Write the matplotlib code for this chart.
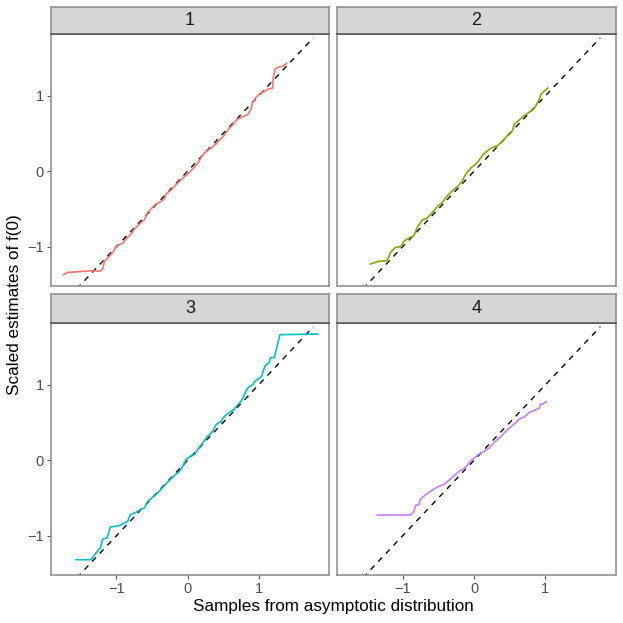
import matplotlib
matplotlib.use("Agg")
import matplotlib.pyplot as plt
import numpy as np

plt.rcParams['font.family'] = ['Liberation Sans', 'DejaVu Sans']

panels = ["1", "2", "3", "4"]
colors = ["#F8766D", "#7CAE00", "#00BFC4", "#C77CFF"]

x1 = [-1.742, -1.686, -1.31, -1.24, -1.193, -1.17, -1.123, -1.053, -1.006, -0.959, -0.912, -0.865,
      -0.795, -0.748, -0.678, -0.607, -0.56, -0.514, -0.443, -0.373, -0.326, -0.303, -0.232, -0.139,
      -0.092, -0.045, 0.002, 0.049, 0.119, 0.166, 0.213, 0.26, 0.33, 0.40, 0.447, 0.494, 0.541, 0.611,
      0.682, 0.705, 0.776, 0.846, 0.893, 0.916, 0.963, 1.01, 1.08, 1.137, 1.197, 1.207, 1.23, 1.291,
      1.338, 1.394]
y1 = [-1.370, -1.339, -1.317, -1.326, -1.295, -1.193, -1.149, -1.074, -1.008, -0.972, -0.954, -0.897,
      -0.831, -0.765, -0.698, -0.645, -0.544, -0.499, -0.433, -0.398, -0.367, -0.301, -0.248, -0.155,
      -0.115, -0.071, -0.036, 0.009, 0.075, 0.141, 0.221, 0.26, 0.309, 0.362, 0.415, 0.450, 0.517, 0.592,
      0.671, 0.693, 0.724, 0.751, 0.826, 0.914, 0.981, 1.025, 1.06, 1.091, 1.100, 1.246, 1.356, 1.387,
      1.391, 1.431]

x2 = [-1.451, -1.334, -1.217, -1.17, -1.1, -1.029, -0.982, -0.912, -0.842, -0.795, -0.725, -0.654,
      -0.584, -0.514, -0.443, -0.373, -0.303, -0.232, -0.162, -0.115, -0.045, 0.026, 0.072, 0.143,
      0.237, 0.33, 0.40, 0.447, 0.494, 0.541, 0.565, 0.635, 0.682, 0.752, 0.822, 0.869, 0.916, 0.94, 1.033]
y2 = [-1.228, -1.193, -1.184, -1.074, -1.008, -0.999, -0.928, -0.884, -0.853, -0.742, -0.645, -0.619,
      -0.544, -0.469, -0.411, -0.323, -0.257, -0.203, -0.124, -0.036, 0.044, 0.097, 0.150, 0.238,
      0.305, 0.340, 0.406, 0.450, 0.503, 0.539, 0.627, 0.680, 0.724, 0.769, 0.813, 0.870, 0.958, 1.025, 1.104]

x3 = [-1.568, -1.357, -1.287, -1.226, -1.193, -1.132, -1.086, -0.959, -0.889, -0.842, -0.804, -0.725,
      -0.664, -0.607, -0.56, -0.467, -0.396, -0.326, -0.256, -0.185, -0.115, -0.068, -0.021, 0.049,
      0.096, 0.143, 0.213, 0.283, 0.354, 0.40, 0.471, 0.518, 0.588, 0.649, 0.705, 0.752, 0.79, 0.822,
      0.855, 0.916, 0.949, 1.01, 1.043, 1.071, 1.094, 1.151, 1.165, 1.221, 1.3, 1.83]
y3 = [-1.317, -1.317, -1.228, -1.162, -1.043, -1.030, -0.884, -0.866, -0.831, -0.809, -0.720, -0.689,
      -0.654, -0.632, -0.544, -0.469, -0.411, -0.336, -0.265, -0.203, -0.146, -0.080, 0.009, 0.062,
      0.075, 0.141, 0.230, 0.318, 0.384, 0.473, 0.517, 0.583, 0.636, 0.671, 0.737, 0.782, 0.848, 0.914,
      0.967, 1.003, 1.047, 1.091, 1.113, 1.201, 1.255, 1.299, 1.356, 1.365, 1.665, 1.674]

x4 = [-1.357, -0.889, -0.842, -0.818, -0.771, -0.757, -0.678, -0.607, -0.514, -0.429, -0.35, -0.279,
      -0.209, -0.139, -0.068, 0.002, 0.072, 0.143, 0.213, 0.283, 0.354, 0.424, 0.494, 0.565, 0.635,
      0.705, 0.776, 0.846, 0.916, 0.93, 0.963, 1.01]
y4 = [-0.725, -0.725, -0.676, -0.597, -0.588, -0.522, -0.455, -0.411, -0.354, -0.323, -0.265, -0.203,
      -0.146, -0.111, -0.036, 0.031, 0.084, 0.119, 0.163, 0.238, 0.296, 0.362, 0.428, 0.481, 0.548,
      0.574, 0.636, 0.662, 0.693, 0.746, 0.746, 0.777]

xs = [x1, x2, x3, x4]
ys = [y1, y2, y3, y4]

ref_line = [-1.77, 1.77]
xticks = [-1, 0, 1]
yticks = [-1, 0, 1]
xlim = (-1.92, 1.99)
ylim = (-1.52, 1.82)

W = H = 623
fig = plt.figure(figsize=(W / 100, H / 100), dpi=100)

# pixel boxes: (left, right, strip_top, plot_top, plot_bottom)
boxes = [(51, 329, 7, 34, 286), (337, 616, 7, 34, 286),
         (51, 329, 294, 323, 575), (337, 616, 294, 323, 575)]

border = "#8A8A8A"
for i, (l, r, st, pt, pb) in enumerate(boxes):
    ax = fig.add_axes([l / W, 1 - pb / H, (r - l) / W, (pb - pt) / H])
    ax.plot(ref_line, ref_line, color="black", linestyle=(0, (4, 4)), linewidth=1.0, zorder=2)
    ax.plot(xs[i], ys[i], color=colors[i], linewidth=1.2, zorder=3)
    ax.set_xlim(*xlim)
    ax.set_ylim(*ylim)
    ax.set_xticks(xticks)
    ax.set_yticks(yticks)
    ax.set_xticklabels(["\u22121", "0", "1"])
    ax.set_yticklabels(["\u22121", "0", "1"])
    for s in ax.spines.values():
        s.set_color(border)
        s.set_linewidth(1.1)
    ax.spines["top"].set_color("#555555")
    ax.tick_params(axis="both", length=3, width=0.8, color="#555555", labelcolor="#4D4D4D",
                   labelsize=10.5, pad=2)
    if i in (0, 1):
        ax.tick_params(axis="x", bottom=False, labelbottom=False)
    if i in (1, 3):
        ax.tick_params(axis="y", left=False, labelleft=False)
    # strip
    sax = fig.add_axes([l / W, 1 - pt / H, (r - l) / W, (pt - st) / H])
    sax.set_facecolor("#D6D6D6")
    sax.set_xticks([])
    sax.set_yticks([])
    for s in sax.spines.values():
        s.set_color(border)
        s.set_linewidth(1.1)
    sax.spines["bottom"].set_color("#555555")
    sax.text(0.5, 0.5, panels[i], ha="center", va="center", fontsize=13, color="#1A1A1A",
             transform=sax.transAxes)

fig.text((51 + 616) / 2 / W, 1 - 607 / H, "Samples from asymptotic distribution",
         ha="center", va="center", fontsize=12.3, color="black")
fig.text(15 / W, 1 - 305 / H, "Scaled estimates of f(0)", ha="center", va="center",
         rotation=90, fontsize=12.3, color="black")

fig.savefig("out.png", dpi=100, facecolor="white")
